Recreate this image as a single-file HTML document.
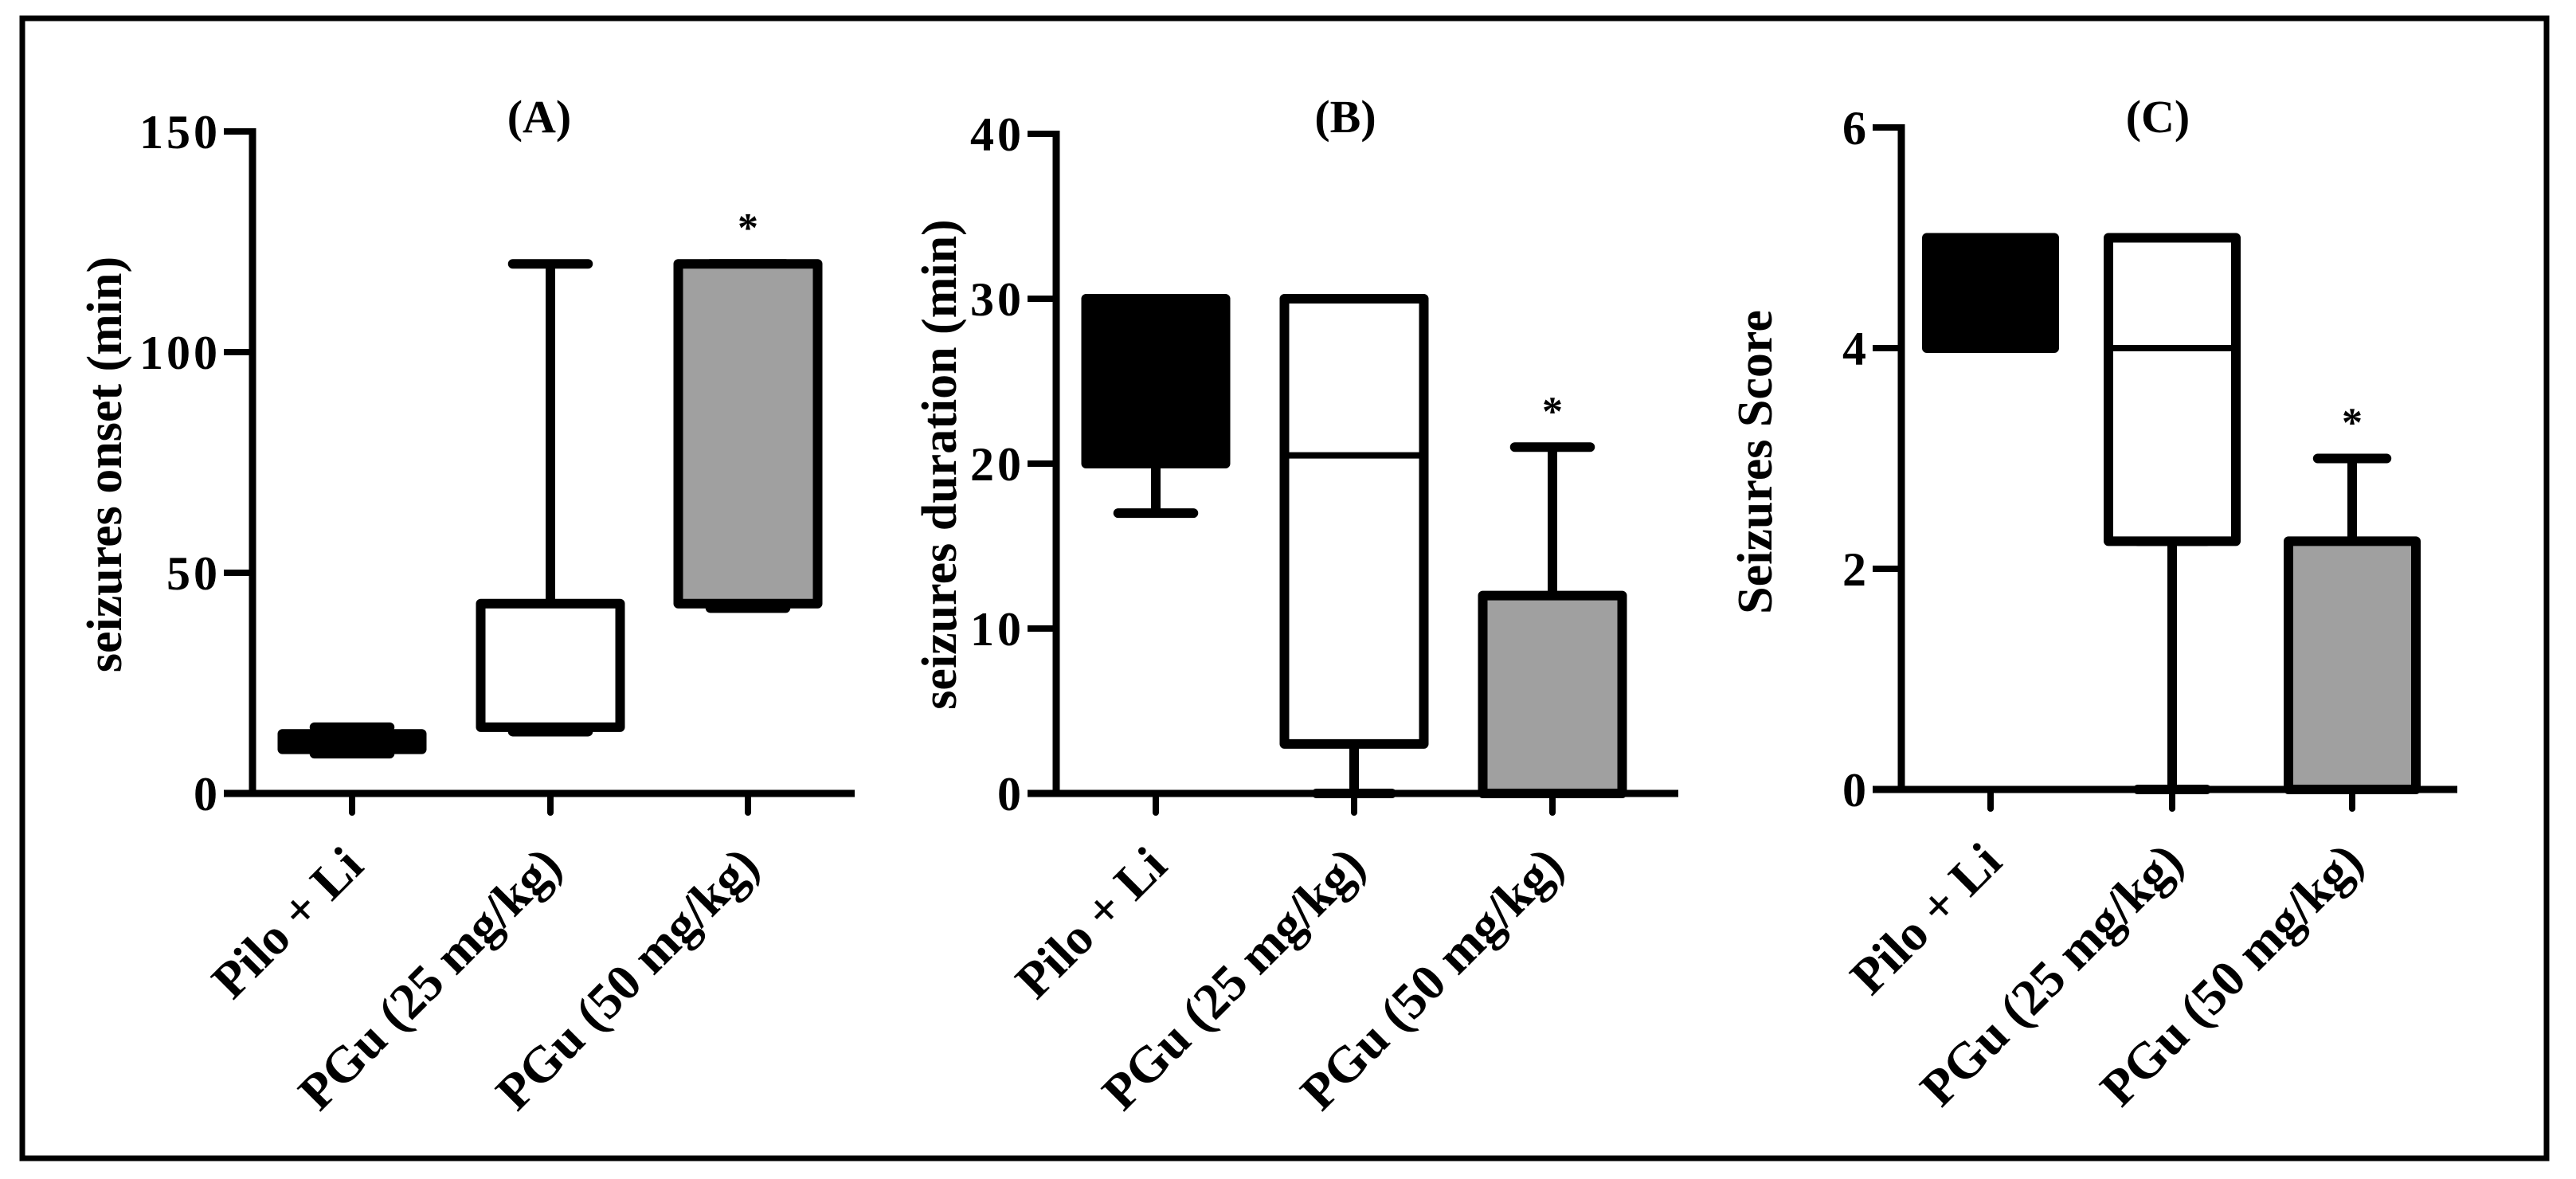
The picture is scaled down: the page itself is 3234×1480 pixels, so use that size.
<!DOCTYPE html>
<html><head><meta charset="utf-8"><style>
html,body{margin:0;padding:0;background:#fff;}
svg{display:block;}
svg text{font-family:"Liberation Serif","Times New Roman",Times,"DejaVu Serif",serif !important;font-weight:bold;fill:#000;}
</style></head><body>
<svg id="fig" width="3234" height="1480" viewBox="0 0 3234 1480" xmlns="http://www.w3.org/2000/svg">
<rect x="28" y="23" width="3169" height="1431" fill="none" stroke="#000" stroke-width="7"/>
</svg>
<script>
const categories = ["Pilo + Li", "PGu (25 mg/kg)", "PGu (50 mg/kg)"];
// Panel A: seizures onset
const aMin = [9, 14, 42];
const aQ1 = [10, 15, 43];
const aMed = [12, 15, 43];
const aQ3 = [13.5, 43, 120];
const aMax = [15, 120, 120];
const aTicks = [0, 50, 100, 150];
// Panel B: seizures duration
const bMin = [17, 0, 0];
const bQ1 = [20, 3, 0];
const bMed = [20, 20.5, 0];
const bQ3 = [30, 30, 12];
const bMax = [30, 30, 21];
const bTicks = [0, 10, 20, 30, 40];
// Panel C: seizures score
const cMin = [4, 0, 0];
const cQ1 = [4, 2.25, 0];
const cMed = [4, 4, 0];
const cQ3 = [5, 5, 2.25];
const cMax = [5, 2.25, 3];
const cTicks = [0, 2, 4, 6];
const stars = [false, false, true];
const fills = ["#000", "#fff", "#a0a0a0"];

const svg = document.getElementById('fig');
const NS = 'http://www.w3.org/2000/svg';
const FONT = '"Liberation Serif", "Times New Roman", Times, serif';
function mk(tag, attrs, parent) {
  const e = document.createElementNS(NS, tag);
  for (const k in attrs) e.setAttribute(k, attrs[k]);
  if (tag === 'text') { e.setAttribute('font-family', FONT); e.setAttribute('font-weight', attrs['font-weight'] || 'bold'); }
  parent.appendChild(e);
  return e;
}

function panel(cfg, mins, q1s, meds, q3s, maxs, ticks) {
  const g = mk('g', {}, svg);
  
  
  const yMax = ticks[ticks.length - 1];
  const y = v => cfg.y0 - (v / yMax) * (cfg.y0 - cfg.yTop);
  const x = i => cfg.cx[i];
  const ya = mk('line', {x1: cfg.ax, y1: cfg.yTop - 4, x2: cfg.ax, y2: cfg.y0, stroke: '#000', 'stroke-width': 9}, g);
  
  
  const xa = mk('line', {x1: cfg.ax - 36, y1: cfg.y0, x2: cfg.xEnd, y2: cfg.y0, stroke: '#000', 'stroke-width': 9}, g);
  
  
  ticks.forEach(t => {
    const tl = mk('line', {x1: cfg.ax - 36, y1: y(t), x2: cfg.ax, y2: y(t), stroke: '#000', 'stroke-width': 8}, g);
    
    
    const tx = mk('text', {x: cfg.ax - 40, y: y(t) + 21, 'text-anchor': 'end', 'font-size': 60, 'letter-spacing': 4}, g);
    tx.textContent = t;
    
    
  });
  const yl = mk('text', {x: 0, y: 0, 'text-anchor': 'middle', 'font-size': 62, transform: `translate(${cfg.ylx},${cfg.yly}) rotate(-90)`}, g);
  yl.textContent = cfg.ylabel;
  
  
  const ti = mk('text', {x: cfg.titleX, y: 166, 'text-anchor': 'middle', 'font-size': 58}, g);
  ti.textContent = cfg.title;
  
  
  categories.forEach((c, i) => {
    const tk = mk('line', {x1: x(i), y1: cfg.y0, x2: x(i), y2: cfg.y0 + 24, stroke: '#000', 'stroke-width': 8, 'stroke-linecap': 'round'}, g);
    
    
    const ex = x(i) + 17, ey = cfg.y0 + 94;
    const lb = mk('text', {x: 0, y: 0, 'text-anchor': 'end', 'font-size': 64, transform: `translate(${ex},${ey}) rotate(-45)`}, g);
    lb.textContent = c;
    
    
    const hw = cfg.bw / 2, cw = cfg.bw * 0.27;
    const wk = mk('g', {}, g);
    
    
    mk('line', {x1: x(i), y1: y(q3s[i]), x2: x(i), y2: y(maxs[i]), stroke: '#000', 'stroke-width': 12}, wk);
    mk('line', {x1: x(i), y1: y(q1s[i]), x2: x(i), y2: y(mins[i]), stroke: '#000', 'stroke-width': 12}, wk);
    mk('line', {x1: x(i) - cw, y1: y(maxs[i]), x2: x(i) + cw, y2: y(maxs[i]), stroke: '#000', 'stroke-width': 12, 'stroke-linecap': 'round'}, wk);
    mk('line', {x1: x(i) - cw, y1: y(mins[i]), x2: x(i) + cw, y2: y(mins[i]), stroke: '#000', 'stroke-width': 12, 'stroke-linecap': 'round'}, wk);
    const bx = mk('rect', {x: x(i) - hw, y: y(q3s[i]), width: cfg.bw, height: Math.max(0, y(q1s[i]) - y(q3s[i])), fill: fills[i], stroke: '#000', 'stroke-width': 12, 'stroke-linejoin': 'round'}, g);
    
    
    const md = mk('line', {x1: x(i) - hw, y1: y(meds[i]), x2: x(i) + hw, y2: y(meds[i]), stroke: '#000', 'stroke-width': 8}, g);
    
    
    if (stars[i]) {
      const st = mk('text', {x: x(i), y: y(maxs[i]) - 28, 'text-anchor': 'middle', 'font-size': 52, 'font-weight': 'normal'}, g);
      st.textContent = '*';
      
      
    }
  });
}

panel({name: 'panel-a', ax: 317, yTop: 165, y0: 996, xEnd: 1073, cx: [442, 691, 939], bw: 175,
  ylabel: 'seizures onset (min)', ylx: 152, yly: 583, title: '(A)', titleX: 677}, aMin, aQ1, aMed, aQ3, aMax, aTicks);
panel({name: 'panel-b', ax: 1326, yTop: 168, y0: 996, xEnd: 2107, cx: [1451, 1700, 1949], bw: 175,
  ylabel: 'seizures duration (min)', ylx: 1200, yly: 583, title: '(B)', titleX: 1689}, bMin, bQ1, bMed, bQ3, bMax, bTicks);
panel({name: 'panel-c', ax: 2387, yTop: 160, y0: 991, xEnd: 3085, cx: [2499, 2727, 2953], bw: 160,
  ylabel: 'Seizures Score', ylx: 2224, yly: 580, title: '(C)', titleX: 2709}, cMin, cQ1, cMed, cQ3, cMax, cTicks);
</script>
</body></html>
